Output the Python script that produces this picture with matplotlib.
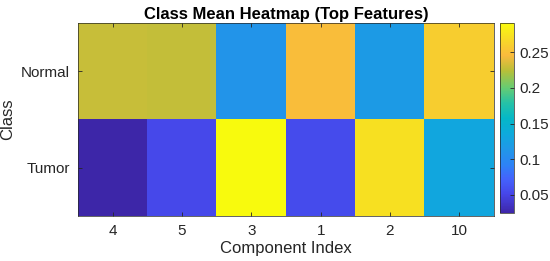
import numpy as np
import matplotlib
matplotlib.use("Agg")
import matplotlib.pyplot as plt
from matplotlib.colors import LinearSegmentedColormap
from matplotlib.ticker import FuncFormatter

plt.rcParams['font.family'] = ['Liberation Sans', 'DejaVu Sans']

# data
components = ["4", "5", "3", "1", "2", "10"]
classes = ["Normal", "Tumor"]
normal_means = [0.229, 0.228, 0.110, 0.248, 0.118, 0.259]
tumor_means = [0.0248, 0.053, 0.2906, 0.055, 0.272, 0.131]
cbar_ticks = [0.05, 0.1, 0.15, 0.2, 0.25]

# rough parula
parula_pts = [
    (0.00, (0.2422, 0.1504, 0.6603)),
    (0.10, (0.2760, 0.2750, 0.9150)),
    (0.18, (0.2650, 0.3900, 0.9900)),
    (0.25, (0.1800, 0.5100, 0.9700)),
    (0.33, (0.1300, 0.5900, 0.9100)),
    (0.42, (0.0500, 0.6700, 0.8600)),
    (0.50, (0.0200, 0.7200, 0.7800)),
    (0.58, (0.1500, 0.7600, 0.6500)),
    (0.66, (0.4000, 0.8000, 0.4500)),
    (0.75, (0.7200, 0.7500, 0.2200)),
    (0.83, (0.9800, 0.7300, 0.2400)),
    (0.90, (0.9700, 0.8300, 0.1700)),
    (1.00, (0.9763, 0.9831, 0.0538)),
]
parula = LinearSegmentedColormap.from_list("parula", parula_pts, N=256)

data = np.array([normal_means, tumor_means])

fig = plt.figure(figsize=(5.5, 2.61), dpi=100)
ax = fig.add_axes([78/550, 1-216/261, (494-78)/550, (216-23)/261])
im = ax.imshow(data, aspect='auto', cmap=parula, interpolation='nearest')

ax.set_xticks(range(len(components)))
ax.set_xticklabels(components)
ax.set_yticks(range(len(classes)))
ax.set_yticklabels(classes)
ax.tick_params(direction='in', top=True, right=True, length=3, width=0.6,
               labelsize=11, color='#262626', labelcolor='#262626', pad=6)
for s in ax.spines.values():
    s.set_color('#262626')
    s.set_linewidth(0.5)
ax.set_xlabel("Component Index", fontsize=12, labelpad=2, color='#262626')
ax.set_ylabel("Class", fontsize=12, labelpad=4, color='#262626')
ax.set_title("Class Mean Heatmap (Top Features)", fontsize=12, fontweight='bold', pad=3)

cax = fig.add_axes([500/550, 1-213/261, 14/550, 190/261])
cb = fig.colorbar(im, cax=cax, ticks=cbar_ticks)
cb.ax.yaxis.set_major_formatter(FuncFormatter(lambda v, p: "%g" % v))
cb.ax.tick_params(direction='in', length=3, width=0.6, labelsize=11,
                  color='#262626', labelcolor='#262626', pad=4)
cb.outline.set_edgecolor('#262626')
cb.outline.set_linewidth(0.5)

fig.savefig("out.png", dpi=100)
